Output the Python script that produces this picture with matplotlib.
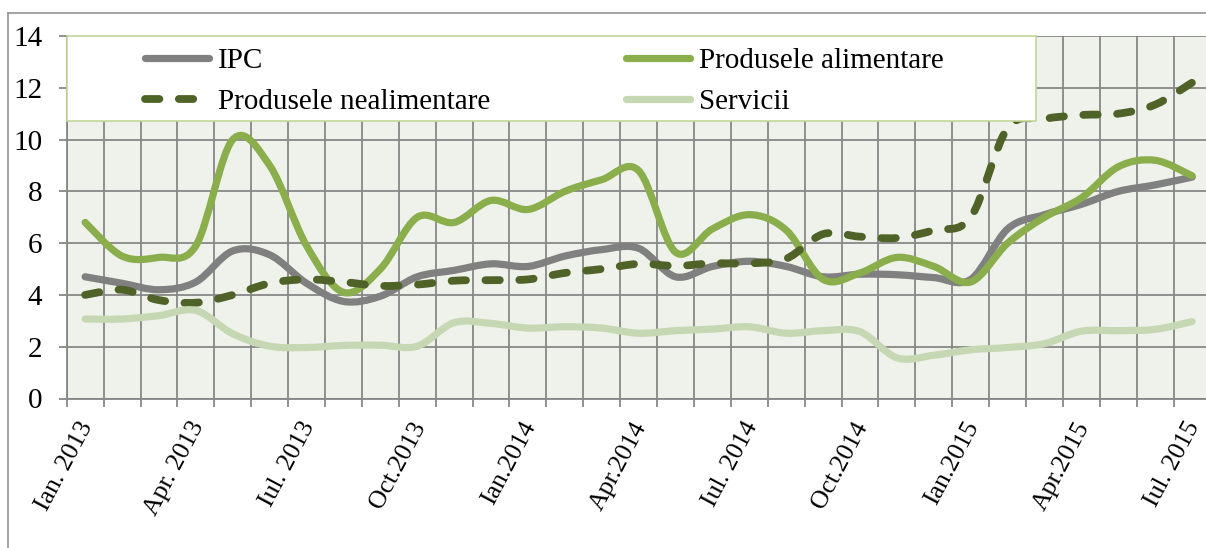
import matplotlib
matplotlib.use("Agg")
import matplotlib.pyplot as plt
from matplotlib.path import Path
from matplotlib.patches import PathPatch, Rectangle
from matplotlib.lines import Line2D
import matplotlib.transforms as mtransforms
import numpy as np

# ---- data (annual change, %) ----
months = np.arange(31)  # Ian. 2013 ... Iul. 2015
tick_idx = [0, 3, 6, 9, 12, 15, 18, 21, 24, 27, 30]
tick_lbl = ["Ian. 2013", "Apr. 2013", "Iul. 2013", "Oct.2013", "Ian.2014", "Apr.2014",
            "Iul. 2014", "Oct.2014", "Ian.2015", "Apr.2015", "Iul. 2015"]

ipc = [4.7, 4.45, 4.2, 4.5, 5.7, 5.55, 4.45, 3.75, 3.95, 4.7, 4.95, 5.2, 5.1, 5.5, 5.75, 5.8,
       4.7, 5.1, 5.3, 5.1, 4.7, 4.8, 4.78, 4.67, 4.6, 6.55, 7.1, 7.5, 8.0, 8.25, 8.55]
alim = [6.8, 5.5, 5.45, 5.9, 10.0, 9.0, 5.9, 4.1, 5.0, 7.0, 6.8, 7.65, 7.3, 8.0, 8.45, 8.8,
        5.65, 6.55, 7.1, 6.5, 4.6, 4.85, 5.45, 5.1, 4.5, 6.0, 7.0, 7.75, 8.95, 9.2, 8.6]
neal = [4.0, 4.2, 3.8, 3.7, 4.0, 4.45, 4.6, 4.5, 4.35, 4.4, 4.55, 4.57, 4.6, 4.85, 5.0, 5.2,
        5.12, 5.22, 5.22, 5.4, 6.35, 6.25, 6.2, 6.5, 7.0, 10.45, 10.8, 10.95, 11.0, 11.35, 12.2]
serv = [3.07, 3.07, 3.2, 3.4, 2.5, 2.02, 1.97, 2.05, 2.06, 2.02, 2.93, 2.9, 2.72, 2.77, 2.72, 2.52,
        2.62, 2.68, 2.77, 2.52, 2.62, 2.58, 1.57, 1.67, 1.88, 1.97, 2.12, 2.6, 2.62, 2.67, 2.97]

GREY = "#808080"
GREEN = "#8BAE4D"
OLIVE = "#4F6228"
PALE = "#C6D8B3"
BG = "#EFF2EA"
GRID = "#878787"
LEGEDGE = "#C3D69B"

FONT = "Liberation Serif"
FS = 21

W, H = 1206, 548


def smooth(x, y):
    # excel-like smoothed line: cubic bezier through every point
    p = np.column_stack([x, y]).astype(float)
    n = len(p)
    verts, codes = [p[0]], [Path.MOVETO]
    for i in range(n - 1):
        p0, p1 = p[max(i - 1, 0)], p[i]
        p2, p3 = p[i + 1], p[min(i + 2, n - 1)]
        verts += [p1 + (p2 - p0) / 6, p2 - (p3 - p1) / 6, p2]
        codes += [Path.CURVE4] * 3
    return Path(verts, codes)


fig = plt.figure(figsize=(W / 100, H / 100), dpi=100)
x0, x1 = 66.7, 66.7 + 31 * 36.9
y0, y1 = 398.5, 36.0
ax = fig.add_axes([x0 / W, (H - y0) / H, (x1 - x0) / W, (y0 - y1) / H])
ax.set_facecolor(BG)
ax.set_xlim(-0.5, 30.5)
ax.set_ylim(0, 14)

series = [
    ("IPC", ipc, GREY, "-", 5.2),
    ("Produsele alimentare", alim, GREEN, "-", 5.2),
    ("Produsele nealimentare", neal, OLIVE, (0, (1.85, 2.5)), 5.6),
    ("Servicii", serv, PALE, "-", 5.2),
]
handles = {}
for name, vals, col, ls, lw in series:
    ax.add_patch(PathPatch(smooth(months, vals), fill=False, edgecolor=col, lw=lw,
                           linestyle=ls, capstyle="round", joinstyle="round", zorder=3))
    handles[name] = Line2D([], [], color=col, lw=lw, linestyle=ls,
                           solid_capstyle="round", dash_capstyle="round")

# axes, grid, ticks
ax.set_yticks(np.arange(0, 15, 2))
ax.set_xticks(tick_idx)
ax.set_xticklabels(tick_lbl, rotation=62, ha="right", va="top", rotation_mode="anchor")
ax.set_xticks(np.arange(-0.5, 31, 1), minor=True)
ax.grid(which="major", axis="y", color=GRID, lw=1.3)
ax.grid(which="minor", axis="x", color=GRID, lw=1.3)
ax.grid(which="major", axis="x", visible=False)
ax.set_axisbelow(True)
for s in ["top", "right"]:
    ax.spines[s].set_visible(False)
for s in ["left", "bottom"]:
    ax.spines[s].set_color(GRID)
    ax.spines[s].set_linewidth(1.3)
ax.tick_params(axis="y", length=5.5, width=1.3, color=GRID, pad=12, labelsize=FS)
ax.tick_params(axis="x", which="major", length=0, pad=14, labelsize=18.5)
ax.tick_params(axis="x", which="minor", length=5.5, width=1.3, color=GRID)
for t in ax.get_xticklabels() + ax.get_yticklabels():
    t.set_fontfamily(FONT)
shift = mtransforms.ScaledTranslation(-7 / 100, 0, fig.dpi_scale_trans)
for t in ax.get_xticklabels():
    t.set_transform(t.get_transform() + shift)

# outer chart frame (only top and left edges fall inside the picture)
fx, fy = 8.4 / W, (H - 12.7) / H
fig.add_artist(Line2D([fx, fx], [0, fy], transform=fig.transFigure, color="#8C8C8C", lw=1.1))
fig.add_artist(Line2D([fx, 1], [fy, fy], transform=fig.transFigure, color="#8C8C8C", lw=1.1))

# legend box over the top of the plot
fig.add_artist(Rectangle((67 / W, (H - 121) / H), (1035.5 - 67) / W, 85 / H,
                         transform=fig.transFigure, fc="white", ec=LEGEDGE, lw=1.2, zorder=4))
order = ["IPC", "Produsele nealimentare", "Produsele alimentare", "Servicii"]
leg = fig.legend([handles[k] for k in order], order, ncol=2, loc="upper left",
                 bbox_to_anchor=(145 / W, (H - 48) / H, (944 - 145) / W, 0),
                 mode="expand", frameon=False, borderpad=0, borderaxespad=0,
                 handlelength=2.2, handletextpad=0.3, labelspacing=0.48,
                 prop={"family": FONT, "size": FS})
leg.set_zorder(5)

fig.savefig("out.png", dpi=100, facecolor="white")
